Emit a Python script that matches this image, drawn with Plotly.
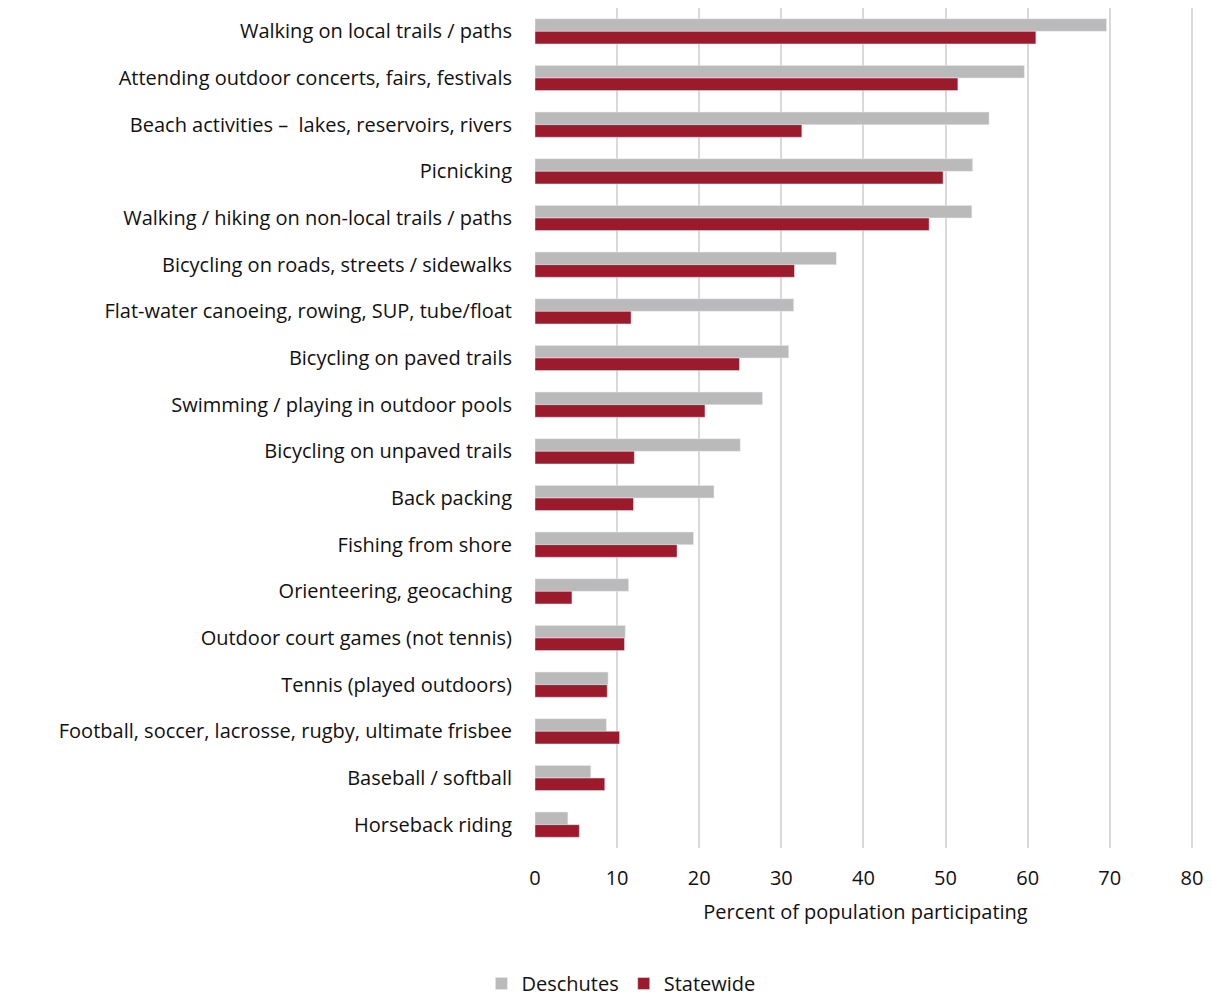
import plotly.graph_objects as go

# Activities, listed top to bottom
activities = [
    "Walking on local trails / paths",
    "Attending outdoor concerts, fairs, festivals",
    "Beach activities –  lakes, reservoirs, rivers",
    "Picnicking",
    "Walking / hiking on non-local trails / paths",
    "Bicycling on roads, streets / sidewalks",
    "Flat-water canoeing, rowing, SUP, tube/float",
    "Bicycling on paved trails",
    "Swimming / playing in outdoor pools",
    "Bicycling on unpaved trails",
    "Back packing",
    "Fishing from shore",
    "Orienteering, geocaching",
    "Outdoor court games (not tennis)",
    "Tennis (played outdoors)",
    "Football, soccer, lacrosse, rugby, ultimate frisbee",
    "Baseball / softball",
    "Horseback riding",
]

deschutes = [69.6, 59.6, 55.3, 53.3, 53.2, 36.7, 31.5, 30.9, 27.7, 25.0,
             21.8, 19.3, 11.4, 11.0, 8.9, 8.7, 6.8, 4.0]
statewide = [61.0, 51.5, 32.5, 49.7, 48.0, 31.6, 11.7, 24.9, 20.7, 12.1,
             12.0, 17.3, 4.5, 10.9, 8.8, 10.3, 8.5, 5.4]

x_ticks = [0, 10, 20, 30, 40, 50, 60, 70, 80]

FONT = "Open Sans, Roboto, Arial, sans-serif"
SIZE = 20

fig = go.Figure()
fig.add_trace(go.Bar(
    y=activities, x=deschutes, orientation="h", name="Deschutes",
    marker=dict(color="#bababa"),
))
fig.add_trace(go.Bar(
    y=activities, x=statewide, orientation="h", name="Statewide",
    marker=dict(color="#9b1a2b"),
))

fig.update_layout(
    width=1212, height=1003,
    margin=dict(l=535, r=16, t=8, b=155, autoexpand=False),
    barmode="group", bargap=0.46, bargroupgap=0,
    plot_bgcolor="white", paper_bgcolor="white",
    font=dict(family=FONT, size=SIZE, color="#111111"),
    showlegend=True,
    legend=dict(
        orientation="h", x=0.13, xanchor="center",
        yref="container", y=0.0, yanchor="bottom",
        font=dict(family=FONT, size=SIZE), traceorder="normal",
        itemwidth=30, tracegroupgap=0,
    ),
)
fig.update_xaxes(
    range=[0, 80.5], tickvals=x_ticks, showgrid=True, gridcolor="#d9d9d9",
    gridwidth=2, zeroline=False, showline=False, ticks="",
    tickfont=dict(size=SIZE), ticklabelstandoff=16,
    title=dict(text="Percent of population participating",
               font=dict(size=SIZE), standoff=14),
)
fig.update_yaxes(
    autorange="reversed", showgrid=False, ticks="", showline=False,
    ticklabelstandoff=22, tickfont=dict(size=SIZE),
)

fig.write_html("out.html")
